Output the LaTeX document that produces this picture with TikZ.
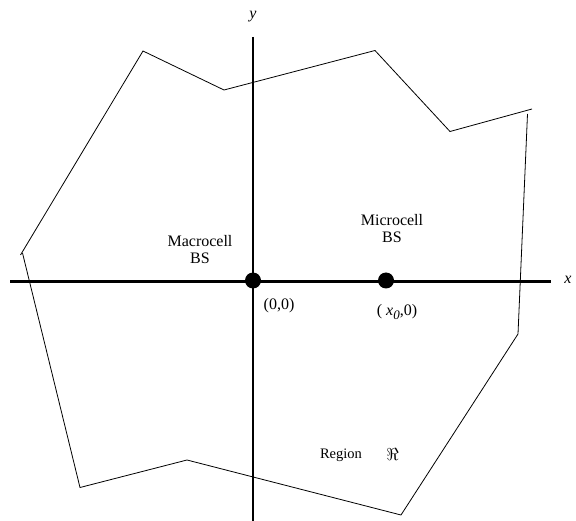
\documentclass[tikz,border=0pt]{standalone}
\usepackage{fontspec}
\setmainfont{Liberation Serif}
\begin{document}
\begin{tikzpicture}[x=1pt,y=-1pt,
  region/.style={line width=0.8pt},
  axis/.style={line width=2.6pt},
  bsdot/.style={circle,fill=black,inner sep=0pt,minimum size=16pt},
  lbl/.style={font=\fontsize{16}{17}\selectfont,align=center,inner sep=0pt}]
\useasboundingbox (0,0) rectangle (576,521);
% region boundary
\coordinate (p1) at (143,51);
\coordinate (p2) at (224,90);
\coordinate (p3) at (375,50.5);
\coordinate (p4) at (450,131.5);
\coordinate (p5) at (532,109);
\coordinate (q1) at (527.5,114);
\coordinate (q2) at (518,334);
\coordinate (p6) at (401,515);
\coordinate (p7) at (187,460);
\coordinate (p8) at (80,487.5);
\coordinate (p9) at (22.5,253);
\coordinate (p10) at (20.5,255);
\draw[region] (p10) -- (p1) -- (p2) -- (p3) -- (p4) -- (p5);
\draw[region] (q1) -- (q2) -- (p6) -- (p7) -- (p8) -- (p9);
% axes
\coordinate (xl) at (10,281.5);
\coordinate (xr) at (551,281.5);
\coordinate (yt) at (253,37);
\coordinate (yb) at (253,521);
\draw[axis] (xl) -- (xr);
\draw[axis] (yt) -- (yb);
\node[lbl,font=\fontsize{16}{17}\selectfont\itshape] (xlab) at (568,280) {x};
\node[lbl,font=\fontsize{16}{17}\selectfont\itshape] (ylab) at (253,17) {y};
% base stations
\node[bsdot] (macro) at (253,280.5) {};
\node[bsdot] (micro) at (386,280.5) {};
\node[lbl] (macrolab) at (200,250) {Macrocell\\BS};
\node[lbl] (microlab) at (392,229) {Microcell\\BS};
\node[lbl] (orig) at (279,306) {(0,0)};
\node[lbl] (x0) at (397,312) {( \textit{x}\raisebox{-0.45ex}{\textit{\fontsize{13}{14}\selectfont 0}},0)};
\node[lbl,font=\fontsize{14.5}{16}\selectfont] (reg) at (341,455) {Region};
\node[lbl] (re) at (392.5,454) {$\Re$};
\end{tikzpicture}
\end{document}
